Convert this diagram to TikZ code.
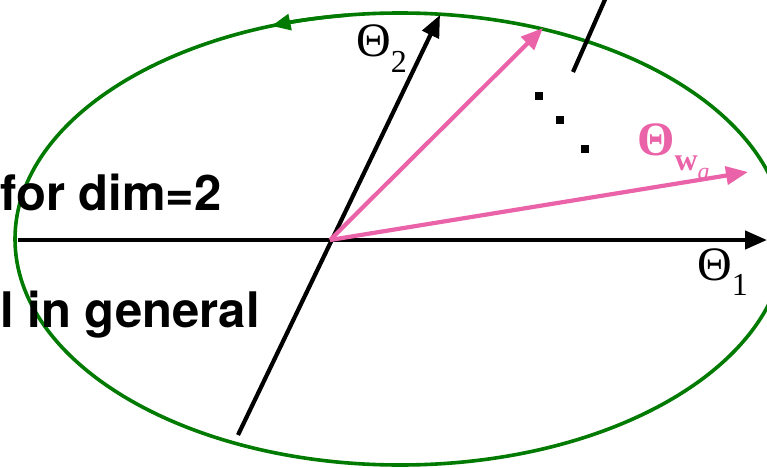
\RequirePackage{fix-cm}
\documentclass[tikz,border=0pt]{standalone}
\usepackage{amsmath,amssymb}
\usepackage{fontspec}
\setsansfont{TeX Gyre Heros}
\newfontfamily\labelfont{Liberation Serif}
\usetikzlibrary{arrows.meta}

\definecolor{ellgreen}{RGB}{0,122,0}
\definecolor{vecpink}{RGB}{234,99,168}

% subscript in the label font
\newcommand{\lsub}[1]{\raisebox{-0.32em}{\fontsize{32}{32}\selectfont #1}}

\begin{document}
\begin{tikzpicture}[x=1pt, y=1pt,
    % --- styles ---
    axis/.style={line width=4.2pt, -{Triangle[length=22pt,width=18pt]}},
    vec/.style={line width=4.2pt, vecpink, -{Triangle[length=22pt,width=18pt]}},
    orbit/.style={line width=3.6pt, ellgreen},
    bigtxt/.style={font=\fontsize{49}{56}\selectfont\sffamily\bfseries, inner sep=0pt},
    lbl/.style={font=\fontsize{48}{54}\selectfont\labelfont, inner sep=0pt},
    dot/.style={fill=black, minimum size=8pt, inner sep=0pt}
]
\useasboundingbox (0,0) rectangle (767,467);
\clip (0,0) rectangle (767,467);

%%% ===== points =====
\coordinate (O)    at (330,227);
\coordinate (c)    at (400,228);
\coordinate (x1s)  at (18,227);
\coordinate (x1e)  at (767,227);
\coordinate (x2s)  at (238,32);
\coordinate (x2e)  at (440,452);
\coordinate (wb)   at (543,439);
\coordinate (wa)   at (748,295);
\coordinate (cuta) at (573,395);
\coordinate (cutb) at (607,472);

%%% ===== green orbit =====
\draw [orbit] (c) ellipse [x radius=385, y radius=226];
\draw [orbit, -{Triangle[length=19pt,width=16pt]}]
    (c) ++(98:385 and 226) arc [start angle=98, end angle=109.5, x radius=385, y radius=226];

%%% ===== text =====
\node (t1) [bigtxt, anchor=base west] at (0,257) {for dim=2};
\node (t2) [bigtxt, anchor=base west] at (0,140) {l in general};

%%% ===== axes =====
\draw [axis] (x1s) -- (x1e);
\draw [axis] (x2s) -- (x2e);
\draw [line width=4.2pt] (cuta) -- (cutb);

%%% ===== vectors =====
\draw [vec] (O) -- (wb);
\draw [vec] (O) -- (wa);

%%% ===== dots =====
\node (d1) [dot] at (539,371) {};
\node (d2) [dot] at (560,347) {};
\node (d3) [dot] at (585,318) {};

%%% ===== labels =====
\node (l1) [lbl, anchor=base west] at (697,187) {Θ\lsub{1}};
\node (l2) [lbl, anchor=base west] at (356,410) {Θ\lsub{2}};
\node (lw) [lbl, anchor=base west, text=vecpink] at (637,312)
    {\bfseries Θ\lsub{w\raisebox{-0.3em}{\fontsize{24}{24}\selectfont\mdseries\itshape a}}};

\end{tikzpicture}
\end{document}
